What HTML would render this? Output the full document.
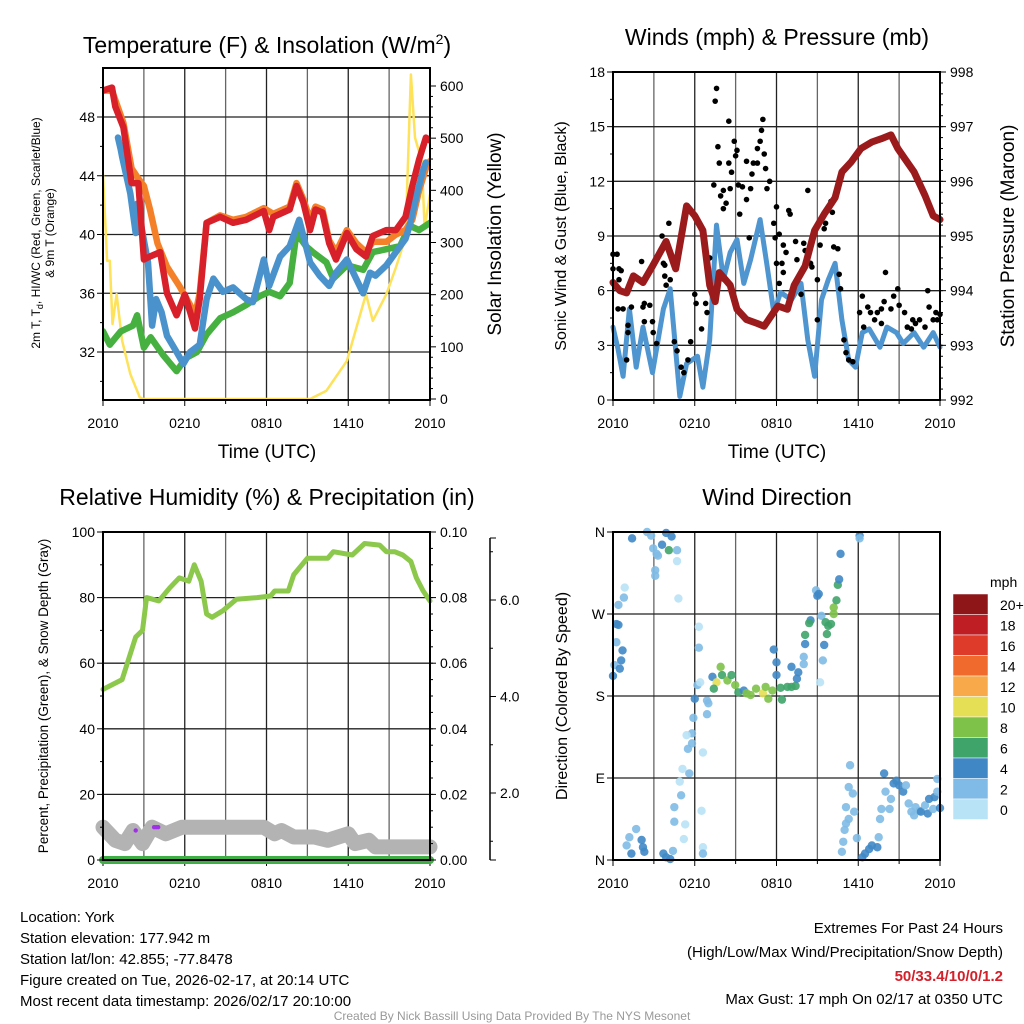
<!DOCTYPE html>
<html><head><meta charset="utf-8"><style>
body{margin:0;background:#fff;}
svg{display:block;font-family:"Liberation Sans",sans-serif;}
</style></head><body>
<svg id="c" width="1024" height="1024" viewBox="0 0 1024 1024" xmlns="http://www.w3.org/2000/svg">
<rect width="1024" height="1024" fill="#fff"/>
<g id="p1"></g>
<g id="p2"></g>
<g id="p3"></g>
<g id="p4"></g>
<text x="267" y="53" font-size="23" text-anchor="middle">Temperature (F) &amp; Insolation (W/m<tspan font-size="14" dy="-9">2</tspan><tspan dy="9">)</tspan></text>
<text x="777" y="45" font-size="23" text-anchor="middle">Winds (mph) &amp; Pressure (mb)</text>
<text x="267" y="505" font-size="23" text-anchor="middle">Relative Humidity (%) &amp; Precipitation (in)</text>
<text x="777" y="505" font-size="23" text-anchor="middle">Wind Direction</text>
<text transform="translate(40,233) rotate(-90)" font-size="12" text-anchor="middle">2m T, T<tspan font-size="9" dy="3">d</tspan><tspan dy="-3">, HI/WC (Red, Green, Scarlet/Blue)</tspan></text>
<text transform="translate(54,233) rotate(-90)" font-size="12" text-anchor="middle">&amp; 9m T (Orange)</text>
<text transform="translate(501,234) rotate(-90)" font-size="19" text-anchor="middle">Solar Insolation (Yellow)</text>
<text x="267" y="458" font-size="19" text-anchor="middle">Time (UTC)</text>
<text transform="translate(566,236) rotate(-90)" font-size="16" text-anchor="middle">Sonic Wind &amp; Gust (Blue, Black)</text>
<text transform="translate(1014,236) rotate(-90)" font-size="19" text-anchor="middle">Station Pressure (Maroon)</text>
<text x="777" y="458" font-size="19" text-anchor="middle">Time (UTC)</text>
<text transform="translate(48,696) rotate(-90)" font-size="13.5" text-anchor="middle">Percent, Precipitation (Green), &amp; Snow Depth (Gray)</text>
<text transform="translate(567,696) rotate(-90)" font-size="16" text-anchor="middle">Direction (Colored By Speed)</text>
<g font-size="15">
<text x="20" y="922">Location: York</text>
<text x="20" y="943">Station elevation: 177.942 m</text>
<text x="20" y="964">Station lat/lon: 42.855; -77.8478</text>
<text x="20" y="985">Figure created on Tue, 2026-02-17, at 20:14 UTC</text>
<text x="20" y="1006">Most recent data timestamp: 2026/02/17 20:10:00</text>
</g>
<g font-size="15" text-anchor="end">
<text x="1003" y="933">Extremes For Past 24 Hours</text>
<text x="1003" y="957">(High/Low/Max Wind/Precipitation/Snow Depth)</text>
<text x="1003" y="981" fill="#d3202a" font-weight="bold">50/33.4/10/0/1.2</text>
<text x="1003" y="1004">Max Gust: 17 mph On 02/17 at 0350 UTC</text>
</g>
<text x="512" y="1020" font-size="12" fill="#999" text-anchor="middle">Created By Nick Bassill Using Data Provided By The NYS Mesonet</text>
</svg>
<script>
// ---------- data ----------
const tickLabels = ["2010","0210","0810","1410","2010"];
const redT = [0,49.8,0.66,50,0.9,48.7,1.5,47.3,2.1,43.5,2.6,43.5,3.0,38.3,3.45,38.5,4.2,38.8,4.7,36,5.4,34.5,6.0,35.9,6.4,34.7,6.75,33.6,7.1,35.6,7.6,40.8,8.6,41.2,9.55,40.8,10.5,41,11.8,41.6,12.2,40.3,12.5,41.2,13.7,41.7,14.2,43.3,14.7,42.2,15.2,40.3,15.6,41.7,16.1,41.5,16.6,39.4,17.1,38.3,17.9,40.1,18.6,39,19.3,38.5,19.8,39.9,20.8,40.3,21.5,40.3,22.2,41.2,22.7,43.3,23.2,45.1,23.7,46.6,24,46.4];
const orangeT = [0,49.8,0.66,49.8,1.5,47.6,2.1,44.5,2.6,43.8,3.0,43.3,3.45,41.7,4.0,39.4,4.7,37.8,5.6,36.5,6.4,35.2,6.75,34.5,7.1,36,7.6,40.8,8.6,41.3,9.55,41,10.5,41.2,11.8,41.8,12.5,41.4,13.7,41.9,14.2,43.5,14.7,42.4,15.2,41,15.6,41.9,16.1,41.7,16.6,39.6,17.1,38.8,17.9,40.3,18.6,39.4,19.3,38.8,19.8,39.5,20.8,39.5,21.5,40,22.2,40.3,22.7,41,23.2,43,23.7,44.5,24,45];
const blueT = [1.1,46.6,1.3,45.8,1.4,45.3,2,42.8,2.4,40.1,2.5,42.1,3.3,38.1,3.6,33.8,3.9,35.6,4.3,34.7,4.7,33.1,5.4,32,5.9,31.2,6.4,32,7.1,32.5,7.6,35.6,8.1,37,8.8,36.1,9.55,36.4,10.5,35.6,11,35.4,11.8,38.3,12.2,36.5,13,38.5,13.7,39.2,14.4,41,15.2,38.1,15.9,37.2,16.6,36.5,17.1,37.4,17.9,38.3,19.1,36,19.6,37.4,20,37.2,20.8,37.9,21.5,38.8,22.2,39.7,22.5,40.6,23,42.6,23.5,44.4,23.7,44.9];
const greenT = [0,33.4,0.5,32.5,1.3,33.4,2.2,33.8,2.5,34.5,3,32.3,3.5,33,4.4,31.8,5.4,30.7,6.1,31.6,6.9,32,7.6,33.2,8.6,34.3,9.55,34.7,10.5,35.2,11.5,35.8,12.2,36.1,13,35.8,13.7,36.7,14.2,40.1,14.9,39.2,15.4,38.8,16.4,38.1,16.9,37,17.9,37.9,19.1,37.6,19.8,38.8,20.8,39,21.8,39.2,22.5,40.6,23.2,40.3,24,40.8];
const solar = [0,431,0.3,265,0.5,265,0.7,144,1,201,1.4,112,2,48,2.7,3,3,0,15.2,0,16.4,16,17.9,73,19.3,201,19.8,150,20.8,201,21.5,252,22.2,309,22.6,622,22.9,501,23.4,456,23.6,329,24,392];
const windSpd = [0,4.0,0.37,2.8,0.74,1.3,1.2,5,1.7,1.8,2.2,4,2.9,1.5,3.7,5,4.2,6.1,4.9,0.2,5.4,2,6.2,2.4,6.6,0.7,7.1,3.3,7.6,9.6,8.1,6.6,8.6,8.1,9.1,8.8,9.6,6.4,10.1,7.7,10.8,9.9,11.3,7.4,11.8,4.8,12.3,5.9,13.1,5.5,13.8,6.4,14.3,3.3,14.8,1.3,15.3,5.5,15.8,6.6,16.3,7.5,16.8,4.4,17.3,2.2,17.8,1.8,18.3,3.7,18.8,3.9,19.6,2.9,20.1,4,20.8,3.7,21.3,3.1,22.1,3.7,22.8,2.9,23.5,3.7,24,2.9];
const pressure = [0,994.15,0.5,994.0,1,993.96,1.5,994.27,2.2,994.15,2.9,994.45,3.9,994.9,4.6,994.4,5.4,995.55,6.0,995.37,6.6,995.1,7.1,994.1,7.5,993.8,7.8,994.33,8.6,994.1,9.1,993.66,9.8,993.47,10.6,993.4,11.1,993.35,12.1,993.72,12.8,993.66,13.3,994.1,14.1,994.45,14.8,995.1,15.5,995.4,16.3,995.7,16.8,996.17,17.5,996.36,18.2,996.6,19.0,996.72,19.7,996.78,20.4,996.85,20.9,996.6,21.4,996.42,22.1,996.17,22.9,995.74,23.5,995.37,24,995.3];
const gustHours = [0,0,0.3,0.44,0.44,0.6,0.37,0.74,1.1,1.1,1,1.35,2.1,2.2,2.3,2.7,2.3,2.9,2.95,3.2,3.6,3.7,3.8,3.8,3.9,4.1,4.2,4.5,4.7,5.0,5.2,5.5,5.7,6,6.1,6.5,6.8,6.9,7.1,7.4,7.5,7.6,7.7,7.8,7.9,8.1,8.1,8.3,8.5,8.5,8.6,8.7,8.9,9.0,9.1,9.2,9.3,9.5,9.8,9.8,10.1,10.2,10.3,10.6,10.6,10.8,10.9,11.0,11.1,11.2,11.3,11.5,10.0,11.8,12.0,11.9,12.2,12.0,12.2,12.5,12.7,12.4,12.5,12.9,13.0,13.4,13.5,13.8,14.0,14.1,14.3,14.5,14.6,15.0,15.2,15.5,15.6,16,16.1,16.2,16.5,16.6,16.7,15.0,16.95,17.1,17.3,17.6,18.1,18.3,18.7,18.9,19.2,19.4,19.7,19.9,20.0,20.4,20.6,20.9,21.0,21.4,21.6,21.9,22.2,22.5,22.9,23.1,23.2,23.5,23.7,23.8,24,19.7,18.4,22.0];
const gustVals = [8.0,7.2,8.0,7.2,6.6,7.1,5.0,5.0,4.1,3.7,2.2,5.1,7.6,5.1,5.3,5.2,4.3,4.3,3.7,3.1,9.0,7.5,7.4,6.8,6.3,9.7,6.6,3.2,2.7,1.8,1.5,2.2,3.2,5.8,5.3,3.9,5.3,4.8,7.8,11.8,16.4,17.1,13.9,13.0,11.2,11.5,10.5,10.8,15.3,13.0,11.6,12.5,14.2,13.4,13.7,11.8,10.2,11.7,13.1,11.0,11.6,12.4,13.0,13.0,13.8,14.2,14.8,15.4,13.5,12.7,11.6,12.0,8.9,9.7,10.6,8.9,9.1,7.5,6.4,8.5,8.1,7.5,7.0,10.4,10.2,8.7,7.7,5.8,8.6,8.2,11.5,7.5,7.3,6.6,8.5,9.4,9.7,10.9,10.3,8.4,8.3,6.9,6.1,4.4,3.3,2.6,2.2,2.1,4.8,5.7,5.1,4.8,4.4,4.8,4.2,5.4,7.0,5.0,5.7,6.1,5.2,4.8,4.0,3.9,4.2,4.4,4.0,6.0,5.1,4.4,4.8,4.4,4.7,5.0,4.0,4.4];
const rh = [0,52,1.4,55,2.4,68,2.9,70,3.2,80,4.1,79,4.9,83,5.6,86,6.3,85,6.7,90,7.2,85,7.6,75,8,74,8.8,76,9.8,79.5,11.3,80,12.3,80.5,12.6,82,13.6,82,14,87,15,92,16.5,92,16.9,94,18.3,93,19.2,96.5,20.3,96,20.8,94,21.4,94,22,93,22.6,91,23,86,23.5,82,24,79];
const snowGray = [0,10,0.9,6,1.6,5,2.2,9,2.9,5,3.6,10,4.6,8,5.8,10,6.8,10,11.8,10,12.6,8,13.1,9,14,7,15.5,7,16.5,6,18,8,18.5,5,19.5,6,20,4,24,4];
const precip = [0,0,24,0];
const purpleH = [2.4,3.75,3.9,4.05];
const purpleV = [9,10,10,10];
const dirHours = [0,0.1,0.5,0.6,0.7,0.25,0.25,0.4,0.4,0.8,0.86,1.4,2.5,2.8,2.95,3.2,3.3,3.1,3.1,3.6,3.9,4.3,4.1,4.7,4.7,4.8,1.0,1.2,1.7,2.1,2.2,1.35,2.3,3.7,3.9,4.2,4.4,4.5,4.5,5.0,4.9,5.2,5.3,5.1,5.6,5.5,5.8,5.8,5.4,5.9,6.0,6.2,6.3,6.3,6.4,6.6,6.5,6.6,6.6,6.9,7.0,6.9,7.3,7.6,7.4,7.9,8.0,8.4,8.7,8.97,9.2,9.6,9.8,10.1,10.5,11.0,11.2,11.4,11.7,11.8,12.0,12.0,12.3,12.4,12.8,13.1,13.4,13.1,13.6,13.5,14.0,14.0,14.1,14.1,14.5,14.4,14.9,15.0,15.1,15.3,15.2,15.4,15.5,15.6,15.8,16.0,15.7,16.2,16.2,16.4,16.5,16.6,16.7,18.1,18.1,17.4,17.3,17.6,17.1,17.3,17.1,17.0,16.9,16.8,17.7,17.9,18.3,18.5,18.8,19.0,19.4,19.5,19.6,19.7,19.9,20.0,20.3,20.4,20.6,20.8,21.0,21.3,21.5,21.7,21.9,22.1,22.2,22.5,22.6,22.9,23.1,23.2,23.5,23.6,23.8,23.8,24];
const dirDeg = [202,214,210,219,230,239,259,258,280,288,299,353,360,356,342,336,334,318,312,346,359,355,340,340,328,287,16,25,34,22,14,7,9,7,3,1,10,42,58,71,86,23,39,100,95,122,128,139,137,156,177,192,256,233,195,118,54,14,7,175,172,160,201,195,188,212,203,197,203,192,184,186,183,181,188,183,190,177,186,231,217,203,189,176,190,190,191,212,206,199,223,215,237,247,263,260,296,290,292,268,195,219,236,261,257,259,248,270,277,285,302,308,336,356,353,104,80,73,58,45,40,33,20,9,53,24,3,7,12,16,14,25,45,56,95,75,56,67,84,87,82,75,82,62,53,49,58,54,53,60,51,67,56,69,89,75,57];
const dirSpd = [5,3,5,5,5,3,5,5,3,3,1,5,3,3,3,3,3,3,3,5,5,5,7,3,1,1,3,3,3,5,5,5,5,5,5,5,3,3,3,3,1,1,1,1,3,3,3,3,1,3,5,3,1,3,1,1,1,1,3,3,3,3,5,11,7,9,7,9,7,9,7,5,9,9,9,11,9,9,9,5,5,5,7,7,7,7,7,5,5,5,3,3,5,7,5,7,3,5,5,3,1,3,5,7,7,7,7,9,9,7,7,5,5,5,3,3,3,3,3,3,3,3,3,3,3,3,5,5,5,5,5,3,3,3,5,3,3,3,5,5,5,5,3,3,3,3,3,3,5,3,5,5,3,5,3,3,5];
const cbLabels = ["20+","18","16","14","12","10","8","6","4","2","0"];
const cbColors = ["#8e1518","#bf1e24","#de3b2a","#ef6a2c","#f8a94a","#e4df55","#7ec24a","#3fa46a","#3f88c5","#7fbbe6","#b8e2f6"];

// ---------- helpers ----------
const NS="http://www.w3.org/2000/svg";
function mk(parent,tag,attrs){const e=document.createElementNS(NS,tag);for(const k in attrs)e.setAttribute(k,attrs[k]);parent.appendChild(e);return e;}
function lin(d0,d1,r0,r1){return v=>r0+(v-d0)*(r1-r0)/(d1-d0);}
function pathFrom(arr,sx,sy){let s="";for(let i=0;i<arr.length;i+=2)s+=(i?"L":"M")+sx(arr[i]).toFixed(1)+","+sy(arr[i+1]).toFixed(1);return s;}
function colorFor(s){const i=Math.min(10,Math.floor(s/2));return cbColors[10-i];}

function frame(g,L,R,T,B,hGrid,sy){
  const sx=lin(0,24,L,R);
  for(let h=3;h<24;h+=3){const e=mk(g,"line",{x1:sx(h),x2:sx(h),y1:T,y2:B,stroke:(h%6?"#666":"#222"),"stroke-width":1.3});
    
    }
  hGrid.forEach(v=>{const e=mk(g,"line",{x1:L,x2:R,y1:sy(v),y2:sy(v),stroke:"#222","stroke-width":1.3});
    
    });
  tickLabels.forEach((t,i)=>{const x=sx(i*6);
    mk(g,"line",{x1:x,x2:x,y1:B,y2:B+6,stroke:"#000","stroke-width":1});
    const e=mk(g,"text",{x:x,y:B+28,"font-size":14,"text-anchor":"middle"});e.textContent=t;
    
    });
  for(let h=3;h<24;h+=6){mk(g,"line",{x1:sx(h),x2:sx(h),y1:B,y2:B+4,stroke:"#000"});}
  return sx;
}
function border(g,L,R,T,B){const e=mk(g,"rect",{x:L,y:T,width:R-L,height:B-T,fill:"none",stroke:"#000","stroke-width":2});
  
  }
function yTicks(g,x,vals,sy,labs,side,minor){
  vals.forEach((v,i)=>{const y=sy(v);mk(g,"line",{x1:x,x2:x+(side<0?-6:6),y1:y,y2:y,stroke:"#000"});
    const e=mk(g,"text",{x:x+(side<0?-8:10),y:y+5,"font-size":14,"text-anchor":side<0?"end":"start"});e.textContent=labs[i];
    
    });
  (minor||[]).forEach(v=>{const y=sy(v);mk(g,"line",{x1:x,x2:x+(side<0?-3:3),y1:y,y2:y,stroke:"#000"});});
}
function line(g,arr,sx,sy,color,w,name){const e=mk(g,"path",{d:pathFrom(arr,sx,sy),fill:"none",stroke:color,"stroke-width":w,"stroke-linejoin":"round","stroke-linecap":"round"});
  
  return e;}

// ---------- panel 1 ----------
(function(){
 const g=document.getElementById("p1");const L=103,R=430,T=68,B=400;
 const sy=lin(32,48,352,117), sr=lin(0,600,399,86);
 const sx=frame(g,L,R,T,B,[32,36,40,44,48],sy);
 const c=document.createElementNS(NS,"clipPath");c.id="cl1";g.appendChild(c);mk(c,"rect",{x:L,y:T,width:R-L,height:B-T});
 const d=mk(g,"g",{"clip-path":"url(#cl1)"});
 line(d,solar,sx,sr,"#fde25a",2.5,"solar-insolation-line");
 line(d,greenT,sx,sy,"#46b040",6.5,"dewpoint-line");
 line(d,orangeT,sx,sy,"#f4812a",6.5,"9m-temperature-line");
 line(d,blueT,sx,sy,"#4a92cc",6.5,"wind-chill-line");
 line(d,redT,sx,sy,"#d7202a",6.5,"2m-temperature-line");
 border(g,L,R,T,B);
 yTicks(g,L,[32,36,40,44,48],sy,["32","36","40","44","48"],-1,[30,34,38,42,46,50]);
 yTicks(g,R,[0,100,200,300,400,500,600],sr,["0","100","200","300","400","500","600"],1,[20,40,60,80,120,140,160,180,220,240,260,280,320,340,360,380,420,440,460,480,520,540,560,580]);
})();

// ---------- panel 2 ----------
(function(){
 const g=document.getElementById("p2");const L=613,R=940,T=72,B=400;
 const sy=lin(0,18,400,72), sp=lin(992,998,400,72);
 const sx=frame(g,L,R,T,B,[3,6,9,12,15],sy);
 line(g,windSpd,sx,sy,"#4f95cf",5,"sonic-wind-line");
 gustHours.forEach((h,i)=>{const e=mk(g,"circle",{cx:sx(h),cy:sy(gustVals[i]),r:2.8,fill:"#000"});
   
   });
 line(g,pressure,sx,sp,"#9b1a1c",7,"pressure-line");
 border(g,L,R,T,B);
 yTicks(g,L,[0,3,6,9,12,15,18],sy,["0","3","6","9","12","15","18"],-1,[1.5,4.5,7.5,10.5,13.5,16.5]);
 const mi=[];for(let v=992.2;v<998;v+=0.2)mi.push(v);
 yTicks(g,R,[992,993,994,995,996,997,998],sp,["992","993","994","995","996","997","998"],1,mi);
})();

// ---------- panel 3 ----------
(function(){
 const g=document.getElementById("p3");const L=103,R=430,T=532,B=860;
 const sy=lin(0,100,860,532), sr=lin(0,0.1,860,532), ss=lin(2,6,793,600);
 const sx=frame(g,L,R,T,B,[20,40,60,80],sy);
 line(g,snowGray,sx,sy,"#b3b3b3",15,"snow-depth-line");
 line(g,precip,sx,sr,"#3fae45",8,"precipitation-line");
 purpleH.forEach((h,i)=>{const e=mk(g,"circle",{cx:sx(h),cy:sy(purpleV[i]),r:2.2,fill:"#a030e8"});
   
   });
 line(g,rh,sx,sy,"#8cc84b",5,"relative-humidity-line");
 border(g,L,R,T,B);
 yTicks(g,L,[0,20,40,60,80,100],sy,["0","20","40","60","80","100"],-1,[10,30,50,70,90]);
 const mi=[];for(let v=0.005;v<0.1;v+=0.005)mi.push(v);
 yTicks(g,R,[0,0.02,0.04,0.06,0.08,0.1],sr,["0.00","0.02","0.04","0.06","0.08","0.10"],1,mi);
 const ax=mk(g,"line",{x1:490,x2:490,y1:538,y2:860,stroke:"#000","stroke-width":1.5});
 
 
 yTicks(g,490,[2,4,6],ss,["2.0","4.0","6.0"],1,[1,3,5,7]);
 mk(g,"line",{x1:490,x2:496,y1:860,y2:860,stroke:"#000"});
 mk(g,"line",{x1:490,x2:496,y1:538,y2:538,stroke:"#000"});
})();

// ---------- panel 4 ----------
(function(){
 const g=document.getElementById("p4");const L=613,R=940,T=532,B=860;
 const sy=lin(0,360,860,532);
 const sx=frame(g,L,R,T,B,[90,180,270],sy);
 dirHours.forEach((h,i)=>{const e=mk(g,"circle",{cx:sx(h),cy:sy(dirDeg[i]),r:4.2,fill:colorFor(dirSpd[i]),opacity:0.9});
   
   });
 border(g,L,R,T,B);
 yTicks(g,L,[0,90,180,270,360],sy,["N","E","S","W","N"],-1,[]);
 const cb=mk(g,"g",{});
 const t=mk(cb,"text",{x:990,y:587,"font-size":14});t.textContent="mph";
 cbColors.forEach((col,i)=>{const y=594+i*20.5;
   const r=mk(cb,"rect",{x:953,y:y,width:35,height:20.5,fill:col,stroke:"#fff","stroke-width":0.5});
   
   
   const e=mk(cb,"text",{x:1000,y:y+16,"font-size":14});e.textContent=cbLabels[i];
   
   });
})();
</script>
</body></html>
